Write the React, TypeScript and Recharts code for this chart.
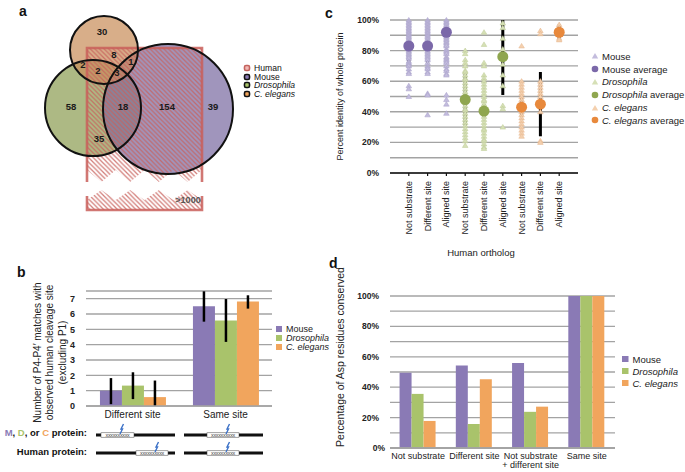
import React from 'react';
import {
  ScatterChart,
  Scatter,
  XAxis,
  YAxis,
  CartesianGrid,
  BarChart,
  Bar,
  ErrorBar,
  Legend,
  Label,
  ReferenceLine,
} from 'recharts';

const FONT = '"Liberation Sans", Arial, Helvetica, sans-serif';

// ---------------- colours ----------------
const BAR_MOUSE = '#8a7ab5';
const BAR_DROS = '#a9c36b';
const BAR_CEL = '#f1a55d';
const AVG_MOUSE = '#7b68a9';
const AVG_DROS = '#8fa64f';
const AVG_CEL = '#e8893c';
const TRI_MOUSE = '#c3bcdd';
const TRI_DROS = '#d6e0b6';
const TRI_CEL = '#f4d0ae';
const GRID = '#a3a3a3';

// ---------------- panel a data ----------------
const vennSetNames = ['Human', 'Mouse', 'Drosophila', 'C. elegans'];
const vennRegionCounts = ['30', '8', '1', '2', '2', '3', '58', '18', '154', '39', '35'];
const humanOnlyCount = '>1000';

// ---------------- panel b data ----------------
const bCategories = ['Different site', 'Same site'];
const bMouse = [1.0, 6.5];
const bDros = [1.33, 5.58];
const bCel = [0.58, 6.82];
const bMouseLow = [0.12, 5.5];
const bMouseHigh = [1.82, 7.48];
const bDrosLow = [0.45, 4.18];
const bDrosHigh = [2.2, 6.98];
const bCelLow = [0.0, 6.35];
const bCelHigh = [1.66, 7.22];
const bTicks = [0, 1, 2, 3, 4, 5, 6, 7];

// ---------------- panel c data ----------------
const cCategoryLabels = [
  'Not substrate', 'Different site', 'Aligned site',
  'Not substrate', 'Different site', 'Aligned site',
  'Not substrate', 'Different site', 'Aligned site',
];
const cMouseNotSub = [100, 99, 98, 97, 96, 95, 94, 93, 92, 91, 90, 89, 88, 87, 86, 85, 84, 82, 81, 80, 79, 78, 77, 76, 75, 73, 72, 71, 70, 68, 66, 65, 57, 55, 50];
const cMouseDiff = [100, 99, 98, 97, 96, 95, 94, 93, 92, 91, 90, 89, 88, 87, 86, 85, 84, 82, 80, 79, 78, 77, 76, 75, 74, 72, 70, 69, 68, 66, 65, 52, 51, 38];
const cMouseAligned = [100, 99, 98, 97, 96, 95, 94, 93, 92, 91, 90, 89, 88, 87, 86, 85, 84, 83, 81, 80, 79, 78, 76, 75, 74, 73, 72, 70, 68, 67, 65, 64, 51, 48, 45, 39];
const cDrosNotSub = [80, 78, 74, 72, 70, 67, 66, 64, 62, 61, 59, 57, 55, 53, 51, 50, 48, 46, 44, 42, 41, 39, 37, 35, 33, 31, 29, 27, 25, 23, 21, 18];
const cDrosDiff = [92, 84, 72, 70, 64, 62, 60, 58, 56, 54, 52, 50, 48, 47, 45, 43, 41, 39, 37, 35, 33, 31, 29, 28, 26, 24, 22, 21, 19, 17, 16];
const cDrosAligned = [98, 95, 88, 81, 71, 64, 57, 44, 42, 30];
const cCelNotSub = [83, 60, 58, 56, 54, 52, 50, 48, 46, 44, 42, 40, 38, 36, 34, 32, 30, 28, 26, 24];
const cCelDiff = [93, 91, 60, 58, 56, 54, 52, 50, 47, 44, 40, 21, 20];
const cCelAligned = [97, 95, 88, 87];
const cAverages = [83, 83, 92, 48, 40.5, 76, 43, 45, 92];
const cErrLow = [70, 72, 84, 31, 36, 51, 37, 24, 87];
const cErrHigh = [97, 95, 99, 66, 45, 100, 50, 66, 97];
const cPercentTicks = [0, 10, 20, 30, 40, 50, 60, 70, 80, 90, 100];

// ---------------- panel d data ----------------
const dCategories = ['Not substrate', 'Different site', 'Not substrate\n+ different site', 'Same site'];
const dMouse = [49.5, 54.2, 56, 100];
const dDros = [35.6, 15.8, 23.8, 100];
const dCel = [17.8, 45.2, 27.2, 100];

// ---------------- tables built from arrays ----------------
const bTable = bCategories.map((c, i) => ({
  cat: c,
  mouse: bMouse[i],
  dros: bDros[i],
  cel: bCel[i],
  mouseErr: [bMouse[i] - bMouseLow[i], bMouseHigh[i] - bMouse[i]],
  drosErr: [bDros[i] - bDrosLow[i], bDrosHigh[i] - bDros[i]],
  celErr: [bCel[i] - bCelLow[i], bCelHigh[i] - bCel[i]],
}));

const dTable = dCategories.map((c, i) => ({ cat: c, mouse: dMouse[i], dros: dDros[i], cel: dCel[i] }));

const toPts = (xPos: number, vals: number[]) => vals.map((v) => ({ x: xPos, y: v }));
const cMouseTri = [...toPts(1, cMouseNotSub), ...toPts(2, cMouseDiff), ...toPts(3, cMouseAligned)];
const cDrosTri = [...toPts(4, cDrosNotSub), ...toPts(5, cDrosDiff), ...toPts(6, cDrosAligned)];
const cCelTri = [...toPts(7, cCelNotSub), ...toPts(8, cCelDiff), ...toPts(9, cCelAligned)];
const cAvgPts = cAverages.map((v, i) => ({ x: i + 1, y: v }));
const cErrSeries = cAverages.map((_, i) => [
  { x: i + 1, y: cErrLow[i] },
  { x: i + 1, y: cErrHigh[i] },
]);

// ---------------- Venn layout (pixel space of panel a) ----------------
const vennCircleLayout = [
  { x: 93, y: 108, r: 48, fill: '#8d9e55' },
  { x: 168, y: 109, r: 65, fill: '#7b6ca2' },
  { x: 104, y: 50, r: 34, fill: '#c98f5b' },
];
const vennLabelLayout = [
  [102, 32], [114, 55], [131, 62], [83, 65], [98, 71], [117, 73],
  [71, 107], [123, 107], [167, 107], [213, 107], [99, 139],
];
const vennBox = { x1: 87, x2: 202, y1: 48, yBreakTop: 182, yBreakBottom: 190, y2: 210 };

const vennCirclePts = vennCircleLayout.map((c) => ({ ...c }));
const vennLabelPts = vennRegionCounts.map((t, i) => ({ x: vennLabelLayout[i][0], y: vennLabelLayout[i][1], t }));
const vennBoxPts = [{ x: vennBox.x1, y: vennBox.y1 }];

const zig = (x1: number, x2: number, yA: number, yB: number, n: number, reverse: boolean) => {
  const pts: string[] = [];
  for (let k = 0; k <= n; k++) {
    const xx = x1 + ((x2 - x1) * k) / n;
    pts.push(`${xx},${k % 2 === 0 ? yA : yB}`);
  }
  if (reverse) pts.reverse();
  return pts;
};

const HumanBoxShape = (props: any) => {
  const { cx, cy } = props;
  const w = vennBox.x2 - vennBox.x1;
  const dx = cx - vennBox.x1;
  const dy = cy - vennBox.y1;
  const X1 = vennBox.x1 + dx;
  const X2 = vennBox.x2 + dx;
  const Y1 = vennBox.y1 + dy;
  const upper = [`${X1},${Y1}`, `${X2},${Y1}`, ...zig(X1, X2, vennBox.yBreakTop - 12 + dy, vennBox.yBreakTop + dy, 8, true)];
  const lower = [...zig(X1, X2, vennBox.yBreakBottom + 10 + dy, vennBox.yBreakBottom + dy, 8, false), `${X2},${vennBox.y2 + dy}`, `${X1},${vennBox.y2 + dy}`];
  const red = '#c95f5a';
  return (
    <g>
      <polygon points={upper.join(' ')} fill="url(#hatchRed)" />
      <polygon points={lower.join(' ')} fill="url(#hatchRed)" />
      <polyline points={`${X1},${vennBox.yBreakTop + dy} ${X1},${Y1} ${X2},${Y1} ${X2},${vennBox.yBreakTop + dy}`} fill="none" stroke={red} strokeWidth={2.6} strokeOpacity={0.85} />
      <polyline points={`${X1},${vennBox.yBreakBottom + 6 + dy} ${X1},${vennBox.y2 + dy} ${X2},${vennBox.y2 + dy} ${X2},${vennBox.yBreakBottom + 6 + dy}`} fill="none" stroke={red} strokeWidth={2.6} strokeOpacity={0.85} />
      <text x={X1 + w - 14} y={vennBox.y2 + dy - 7} fontSize={9} fontWeight="bold" fill="#555" textAnchor="middle" fontFamily={FONT}>{humanOnlyCount}</text>
    </g>
  );
};

const CircleFillShape = (props: any) => (
  <circle cx={props.cx} cy={props.cy} r={props.payload.r} fill={props.payload.fill} fillOpacity={0.72} />
);
const CircleLineShape = (props: any) => (
  <circle cx={props.cx} cy={props.cy} r={props.payload.r} fill="none" stroke="#111" strokeWidth={2} />
);
const CountShape = (props: any) => (
  <text x={props.cx} y={props.cy} dy="0.35em" textAnchor="middle" fontSize={9.5} fontWeight="bold" fill="#1a1a1a" fontFamily={FONT}>{props.payload.t}</text>
);

const vennLegendFills = ['#f2b8b5', '#8a7ab5', '#a9c36b', '#f1a55d'];
const vennLegendStrokes = ['#c4635e', '#111', '#111', '#111'];

const VennLegend = () => (
  <div style={{ fontFamily: FONT, fontSize: 8.6, lineHeight: '8.6px', color: '#111' }}>
    {vennSetNames.map((n, i) => (
      <div key={n} style={{ display: 'flex', alignItems: 'center', height: 8.6 }}>
        <svg width={8} height={8} style={{ marginRight: 3 }}>
          <rect x={1.5} y={1.5} width={5} height={5} rx={1.5} fill={vennLegendFills[i]} stroke={vennLegendStrokes[i]} strokeWidth={1.6} />
        </svg>
        <span style={{ fontStyle: i >= 2 ? 'italic' : 'normal', whiteSpace: 'nowrap' }}>{n}</span>
      </div>
    ))}
  </div>
);

// ---------------- shapes for panel c ----------------
const makeTri = (fill: string, stroke: string) => (props: any) => {
  const { cx, cy } = props;
  return (
    <polygon
      points={`${cx},${cy - 2.6} ${cx - 2.8},${cy + 2} ${cx + 2.8},${cy + 2}`}
      fill={fill}
      stroke={stroke}
      strokeWidth={0.5}
    />
  );
};
const avgColors = [AVG_MOUSE, AVG_MOUSE, AVG_MOUSE, AVG_DROS, AVG_DROS, AVG_DROS, AVG_CEL, AVG_CEL, AVG_CEL];
const AvgShape = (props: any) => (
  <circle cx={props.cx} cy={props.cy} r={5.5} fill={avgColors[props.payload.x - 1]} />
);
const NoShape = () => <g />;

const CTick = (props: any) => {
  const { x, y, payload } = props;
  return (
    <text x={x} y={y} transform={`rotate(-90 ${x} ${y})`} textAnchor="end" dy="0.34em" fontSize={9} fill="#222" fontFamily={FONT}>
      {cCategoryLabels[payload.value - 1]}
    </text>
  );
};

const PercentTick = (props: any) => {
  const { x, y, payload } = props;
  const v = payload.value;
  if (v % 20 !== 0 || v === 0) {
    if (v !== 0) return <g />;
  }
  return (
    <text x={x} y={y} dy="0.35em" textAnchor="end" fontSize={8.5} fontWeight="bold" fill="#222" fontFamily={FONT}>{`${v}%`}</text>
  );
};

const legendCItems = [
  { label: 'Mouse', italic: false, extra: '', kind: 'tri', color: TRI_MOUSE },
  { label: 'Mouse', italic: false, extra: ' average', kind: 'dot', color: AVG_MOUSE },
  { label: 'Drosophila', italic: true, extra: '', kind: 'tri', color: TRI_DROS },
  { label: 'Drosophila', italic: true, extra: ' average', kind: 'dot', color: AVG_DROS },
  { label: 'C. elegans', italic: true, extra: '', kind: 'tri', color: TRI_CEL },
  { label: 'C. elegans', italic: true, extra: ' average', kind: 'dot', color: AVG_CEL },
];

const LegendC = () => (
  <div style={{ fontFamily: FONT, fontSize: 9.5, color: '#222' }}>
    {legendCItems.map((it, i) => (
      <div key={i} style={{ display: 'flex', alignItems: 'center', height: 12.8 }}>
        <svg width={8} height={8} style={{ marginRight: 3 }}>
          {it.kind === 'tri' ? (
            <polygon points="4,1 0.8,6.6 7.2,6.6" fill={it.color} />
          ) : (
            <circle cx={4} cy={4} r={3.3} fill={it.color} />
          )}
        </svg>
        <span style={{ whiteSpace: 'nowrap' }}>
          <span style={{ fontStyle: it.italic ? 'italic' : 'normal' }}>{it.label}</span>
          {it.extra}
        </span>
      </div>
    ))}
  </div>
);

const barLegendItems = [
  { label: 'Mouse', italic: false, color: BAR_MOUSE },
  { label: 'Drosophila', italic: true, color: BAR_DROS },
  { label: 'C. elegans', italic: true, color: BAR_CEL },
];

const makeBarLegend = (fontSize: number, rowH: number, sq: number) => () => (
  <div style={{ fontFamily: FONT, fontSize, color: '#222' }}>
    {barLegendItems.map((it) => (
      <div key={it.label} style={{ display: 'flex', alignItems: 'center', height: rowH }}>
        <svg width={sq + 2} height={sq} style={{ marginRight: 2 }}>
          <rect x={0} y={0} width={sq} height={sq} fill={it.color} />
        </svg>
        <span style={{ fontStyle: it.italic ? 'italic' : 'normal', whiteSpace: 'nowrap' }}>{it.label}</span>
      </div>
    ))}
  </div>
);
const LegendB = makeBarLegend(9, 9.4, 6);
const LegendD = makeBarLegend(9.5, 12, 6.5);

const makeCatTick = (fontSize: number, lineH: number) => (props: any) => {
  const { x, y, payload } = props;
  const lines = String(payload.value).split('\n');
  return (
    <text x={x} y={y} textAnchor="middle" fontSize={fontSize} fill="#222" fontFamily={FONT}>
      {lines.map((l, i) => (
        <tspan key={i} x={x} dy={i === 0 ? '0.75em' : lineH}>{l}</tspan>
      ))}
    </text>
  );
};
const BTick = makeCatTick(10, 10);
const DTick = makeCatTick(9, 9.6);

const yTickStyle = { fontSize: 8.5, fontWeight: 'bold' as const, fill: '#222', fontFamily: FONT };

const PanelLetter = ({ x, y, ch }: { x: number; y: number; ch: string }) => (
  <div style={{ position: 'absolute', left: x, top: y, fontFamily: FONT, fontWeight: 'bold', fontSize: 14, lineHeight: '14px', color: '#111' }}>{ch}</div>
);

// ---------------- schematic under panel b ----------------
const Motif = ({ x, y, w }: { x: number; y: number; w: number }) => (
  <g>
    <rect x={x} y={y - 2.2} width={w} height={4.4} fill="#fff" stroke="#444" strokeWidth={0.5} />
    <text x={x + w / 2} y={y} dy="0.32em" textAnchor="middle" fontSize={5.4} fill="#444" fontFamily={FONT} letterSpacing={-0.3}>xxxxxxxxxx</text>
  </g>
);
const Bolt = ({ x, y }: { x: number; y: number }) => (
  <path d={`M${x + 2.5},${y - 11} L${x},${y - 6} L${x + 1.5},${y - 6} L${x - 1},${y - 1}`} fill="none" stroke="#3d72c8" strokeWidth={1.4} />
);
const Schematic = () => (
  <svg width={300} height={52} style={{ position: 'absolute', left: 0, top: 420 }}>
    <text x={87} y={16} textAnchor="end" fontSize={9.5} fontWeight="bold" fontFamily={FONT} fill="#111">
      <tspan fill={BAR_MOUSE}>M</tspan>, <tspan fill={BAR_DROS}>D</tspan>, or <tspan fill={BAR_CEL}>C</tspan> protein:
    </text>
    <text x={87} y={35} textAnchor="end" fontSize={9.5} fontWeight="bold" fontFamily={FONT} fill="#111">Human protein:</text>
    <line x1={96} x2={175} y1={15} y2={15} stroke="#111" strokeWidth={3} />
    <line x1={184} x2={263} y1={15} y2={15} stroke="#111" strokeWidth={3} />
    <line x1={96} x2={175} y1={33} y2={33} stroke="#111" strokeWidth={3} />
    <line x1={184} x2={263} y1={33} y2={33} stroke="#111" strokeWidth={3} />
    <Motif x={101} y={15} w={33} />
    <Motif x={207} y={15} w={32} />
    <Motif x={136} y={33} w={32} />
    <Motif x={207} y={33} w={32} />
    <Bolt x={121} y={15} />
    <Bolt x={227} y={15} />
    <Bolt x={156} y={33} />
    <Bolt x={227} y={33} />
  </svg>
);

const ZeroPercentLabel = (p: any) => {
  const vb = p.viewBox;
  return (
    <text x={vb.x - 5} y={vb.y} dy="0.35em" textAnchor="end" fontSize={8.5} fontWeight="bold" fill="#222" fontFamily={FONT}>0%</text>
  );
};

export default function App() {
  return (
    <div style={{ position: 'absolute', left: 0, top: 0, width: 685, height: 472, background: '#fff', overflow: 'hidden', fontFamily: FONT }}>
      <svg width={0} height={0} style={{ position: 'absolute' }}>
        <defs>
          <pattern id="hatchRed" patternUnits="userSpaceOnUse" width={4.6} height={4.6}>
            <path d="M-1,-1 L5.6,5.6 M-1,3.6 L1,5.6 M3.6,-1 L5.6,1" stroke="#c8605b" strokeWidth={1.3} strokeOpacity={0.8} />
          </pattern>
        </defs>
      </svg>

      {/* ---------- panel a ---------- */}
      <div style={{ position: 'absolute', left: 0, top: 0 }}>
        <ScatterChart width={300} height={230} margin={{ top: 0, right: 0, bottom: 0, left: 0 }}>
          <XAxis type="number" dataKey="x" domain={[0, 300]} hide />
          <YAxis type="number" dataKey="y" domain={[0, 230]} reversed hide />
          <Scatter data={vennCirclePts} shape={CircleFillShape} isAnimationActive={false} />
          <Scatter data={vennBoxPts} shape={HumanBoxShape} isAnimationActive={false} />
          <Scatter data={vennCirclePts} shape={CircleLineShape} isAnimationActive={false} />
          <Scatter data={vennLabelPts} shape={CountShape} isAnimationActive={false} />
        </ScatterChart>
      </div>
      <div style={{ position: 'absolute', left: 243, top: 64 }}>
        <VennLegend />
      </div>
      <PanelLetter x={19} y={4} ch="a" />

      {/* ---------- panel b ---------- */}
      <div style={{ position: 'absolute', left: 0, top: 250 }}>
        <BarChart width={340} height={182} data={bTable} margin={{ top: 41, right: 68, bottom: 2, left: 56 }} barCategoryGap="15%" barGap={0}>
          <CartesianGrid vertical={false} stroke={GRID} strokeWidth={1.3} />
          <XAxis dataKey="cat" tick={BTick} tickLine={false} tickSize={0} axisLine={{ stroke: GRID, strokeWidth: 1.3 }} height={24} tickMargin={4} interval={0} />
          <YAxis domain={[0, 7.5]} ticks={bTicks} interval={0} width={30} axisLine={false} tickLine={false} tickMargin={5} tick={{ ...yTickStyle, fontSize: 9 }}>
            <Label
              content={(p: any) => {
                const vb = p.viewBox;
                const cy = vb.y + vb.height / 2 + 4;
                const lines = ['Number of P4-P4\u2032 matches with', 'observed human cleavage site', '(excluding P1)'];
                return (
                  <g>
                    {lines.map((l, i) => (
                      <text key={i} x={40.5 + i * 12.5} y={cy} transform={`rotate(-90 ${40.5 + i * 12.5} ${cy})`} textAnchor="middle" fontSize={10} fill="#222" fontFamily={FONT}>{l}</text>
                    ))}
                  </g>
                );
              }}
            />
          </YAxis>
          <Bar dataKey="mouse" fill={BAR_MOUSE} isAnimationActive={false}>
            <ErrorBar dataKey="mouseErr" width={0} stroke="#000" strokeWidth={2.5} direction="y" />
          </Bar>
          <Bar dataKey="dros" fill={BAR_DROS} isAnimationActive={false}>
            <ErrorBar dataKey="drosErr" width={0} stroke="#000" strokeWidth={2.5} direction="y" />
          </Bar>
          <Bar dataKey="cel" fill={BAR_CEL} isAnimationActive={false}>
            <ErrorBar dataKey="celErr" width={0} stroke="#000" strokeWidth={2.5} direction="y" />
          </Bar>
          <Legend layout="vertical" align="center" verticalAlign="middle" content={LegendB} wrapperStyle={{ position: 'absolute', left: 276, top: 74, width: 70 }} />
        </BarChart>
      </div>
      <PanelLetter x={17} y={265} ch="b" />
      <Schematic />

      {/* ---------- panel c ---------- */}
      <div style={{ position: 'absolute', left: 300, top: 0 }}>
        <ScatterChart width={385} height={262} margin={{ top: 20, right: 107, bottom: 4, left: 60 }}>
          <CartesianGrid vertical={false} stroke={GRID} strokeWidth={1.4} />
          <XAxis
            type="number"
            dataKey="x"
            domain={[0, 10]}
            ticks={[1, 2, 3, 4, 5, 6, 7, 8, 9]}
            tick={CTick}
            tickSize={3}
            tickMargin={5}
            tickLine={{ stroke: '#111', strokeWidth: 1.2 }}
            axisLine={{ stroke: '#111', strokeWidth: 1.6 }}
            height={85}
            interval={0}
          >
            <Label
              content={(p: any) => {
                const vb = p.viewBox;
                return (
                  <text x={181} y={vb.y + vb.height - 2} textAnchor="middle" fontSize={9.5} fill="#222" fontFamily={FONT}>Human ortholog</text>
                );
              }}
            />
          </XAxis>
          <YAxis
            type="number"
            dataKey="y"
            domain={[0, 100]}
            ticks={cPercentTicks}
            interval={0}
            width={30}
            axisLine={false}
            tickLine={false}
            tickMargin={5}
            tick={PercentTick}
          >
            <Label
              content={(p: any) => {
                const vb = p.viewBox;
                const cy = vb.y + vb.height / 2;
                return (
                  <text x={43} y={cy} transform={`rotate(-90 43 ${cy})`} textAnchor="middle" fontSize={9} fill="#222" fontFamily={FONT}>Percent identity of whole protein</text>
                );
              }}
            />
          </YAxis>
          {cErrSeries.map((s, i) => (
            <Scatter key={`e${i}`} data={s} line={{ stroke: '#000', strokeWidth: 3 }} shape={NoShape} isAnimationActive={false} legendType="none" />
          ))}
          <Scatter data={cMouseTri} shape={makeTri(TRI_MOUSE, '#a79fc8')} isAnimationActive={false} />
          <Scatter data={cDrosTri} shape={makeTri(TRI_DROS, '#bccb94')} isAnimationActive={false} />
          <Scatter data={cCelTri} shape={makeTri(TRI_CEL, '#e5b58d')} isAnimationActive={false} />
          <Scatter data={cAvgPts} shape={AvgShape} isAnimationActive={false} />
          <Legend layout="vertical" align="center" verticalAlign="middle" content={LegendC} wrapperStyle={{ position: 'absolute', left: 291, top: 50, width: 100 }} />
        </ScatterChart>
      </div>
      <PanelLetter x={325} y={6} ch="c" />

      {/* ---------- panel d ---------- */}
      <div style={{ position: 'absolute', left: 300, top: 255 }}>
        <BarChart width={385} height={217} data={dTable} margin={{ top: 41, right: 70, bottom: 2, left: 60 }} barCategoryGap="17%" barGap={0}>
          <CartesianGrid vertical={false} stroke={GRID} strokeWidth={1.3} />
          <XAxis dataKey="cat" tick={DTick} tickLine={false} tickSize={0} axisLine={{ stroke: GRID, strokeWidth: 1.3 }} height={22} tickMargin={4} interval={0} />
          <YAxis
            type="number"
            domain={[0, 100]}
            ticks={cPercentTicks.filter((t) => t > 0)}
            interval={0}
            width={30}
            axisLine={false}
            tickLine={false}
            tickMargin={5}
            tick={PercentTick}
          >
            <Label
              content={(p: any) => {
                const vb = p.viewBox;
                const cy = vb.y + vb.height / 2 - 15;
                return (
                  <text x={44} y={cy} transform={`rotate(-90 44 ${cy})`} textAnchor="middle" fontSize={10.5} fill="#222" fontFamily={FONT}>Percentage of Asp residues conserved</text>
                );
              }}
            />
          </YAxis>
          <ReferenceLine y={0} stroke={GRID} strokeWidth={1.3} ifOverflow="visible" label={ZeroPercentLabel} />
          <Bar dataKey="mouse" fill={BAR_MOUSE} isAnimationActive={false} />
          <Bar dataKey="dros" fill={BAR_DROS} isAnimationActive={false} />
          <Bar dataKey="cel" fill={BAR_CEL} isAnimationActive={false} />
          <Legend layout="vertical" align="center" verticalAlign="middle" content={LegendD} wrapperStyle={{ position: 'absolute', left: 322, top: 98, width: 70 }} />
        </BarChart>
      </div>
      <PanelLetter x={329} y={256} ch="d" />
    </div>
  );
}
